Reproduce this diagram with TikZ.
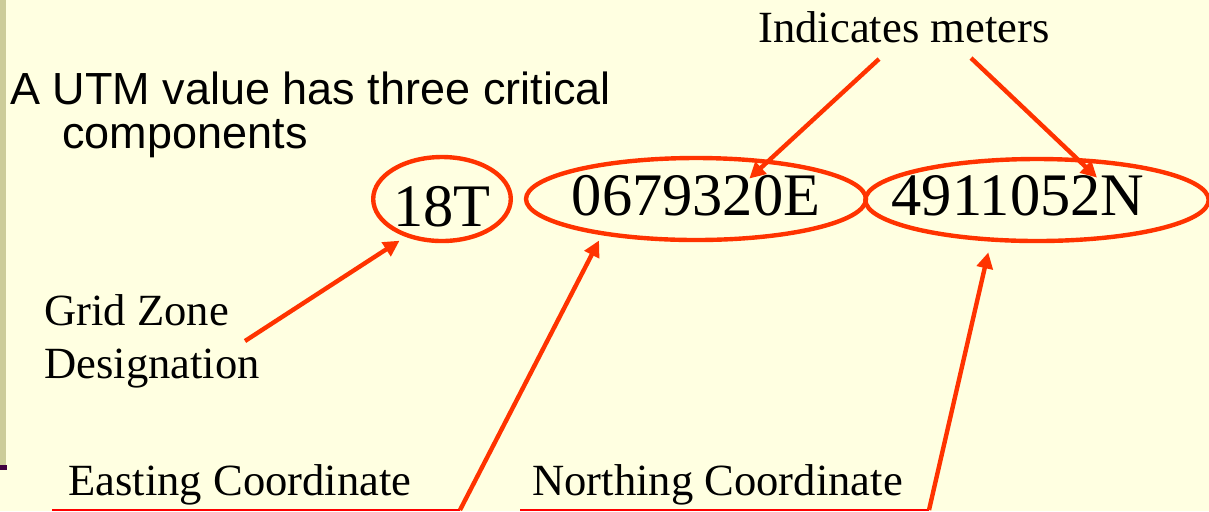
\documentclass[tikz,border=0pt]{standalone}
\usepackage{fontspec}
\setmainfont{Liberation Serif}
\newfontfamily\slidesans{Liberation Sans}
\usetikzlibrary{arrows.meta,shapes.geometric}
\definecolor{slidebg}{RGB}{255,255,225}
\definecolor{barolive}{RGB}{204,204,153}
\definecolor{barplum}{RGB}{64,0,64}
\definecolor{utmred}{RGB}{255,51,0}
\begin{document}
\begin{tikzpicture}[x=0.5pt,y=-0.5pt,lbl/.style={font=\fontsize{22.3}{26.5}\selectfont,inner sep=0,anchor=base west,align=left},oval/.style={ellipse,draw=utmred,line width=2.2pt,inner sep=0,text depth=0pt,font=\fontsize{30.2}{36}\selectfont},arr/.style={-{Triangle[length=8pt,width=8pt]},line width=2.2pt,utmred},uline/.style={line width=1pt,red}]
\fill[slidebg](0,0) rectangle (1209,511);\useasboundingbox (0,0) rectangle (1209,511);
\fill[barolive](0,0) rectangle (6,465);\fill[barplum](0,465) rectangle (7,470);
\node[lbl](meters) at (758,42){Indicates meters};
\node[lbl,font=\fontsize{22.5}{22}\slidesans](title) at (10,148){A UTM value has three critical\\\hspace*{26pt}components};
\node[oval,text height=27pt,minimum width=64pt,minimum height=42pt](zone) at (442,199){18T};
\node[oval,text height=16pt,inner xsep=-3pt,minimum width=170pt,minimum height=41pt](east) at (696,199){0679320E};
\node[oval,text height=15pt,inner xsep=-12pt,minimum width=170pt,minimum height=41pt](north) at (1037,200){4911052N\hspace*{19pt}};
\node[lbl](gzd) at (44,378){Grid Zone\\Designation};
\node[lbl](easting) at (68,495){Easting Coordinate};
\node[lbl](northing) at (532,495){Northing Coordinate};
\coordinate(gt) at (245,341);\coordinate(es) at (52,510);\coordinate(ee) at (460,510);\coordinate(ns) at (520,510);\coordinate(ne) at (929,510);
\coordinate(m1) at (879,59);\coordinate(m2) at (971,58);
\draw[arr,shorten >=3.5pt](gt)--(zone.226);
\draw[uline](es)--(ee);\draw[arr,shorten >=3pt](ee)--(east.201);
\draw[uline](ns)--(ne);\draw[arr,shorten >=5.5pt](ne)--(north.222);
\draw[arr,shorten >=-13.7pt](m1)--(east.28);\draw[arr,shorten >=-14.3pt](m2)--(north.47);
\end{tikzpicture}
\end{document}
